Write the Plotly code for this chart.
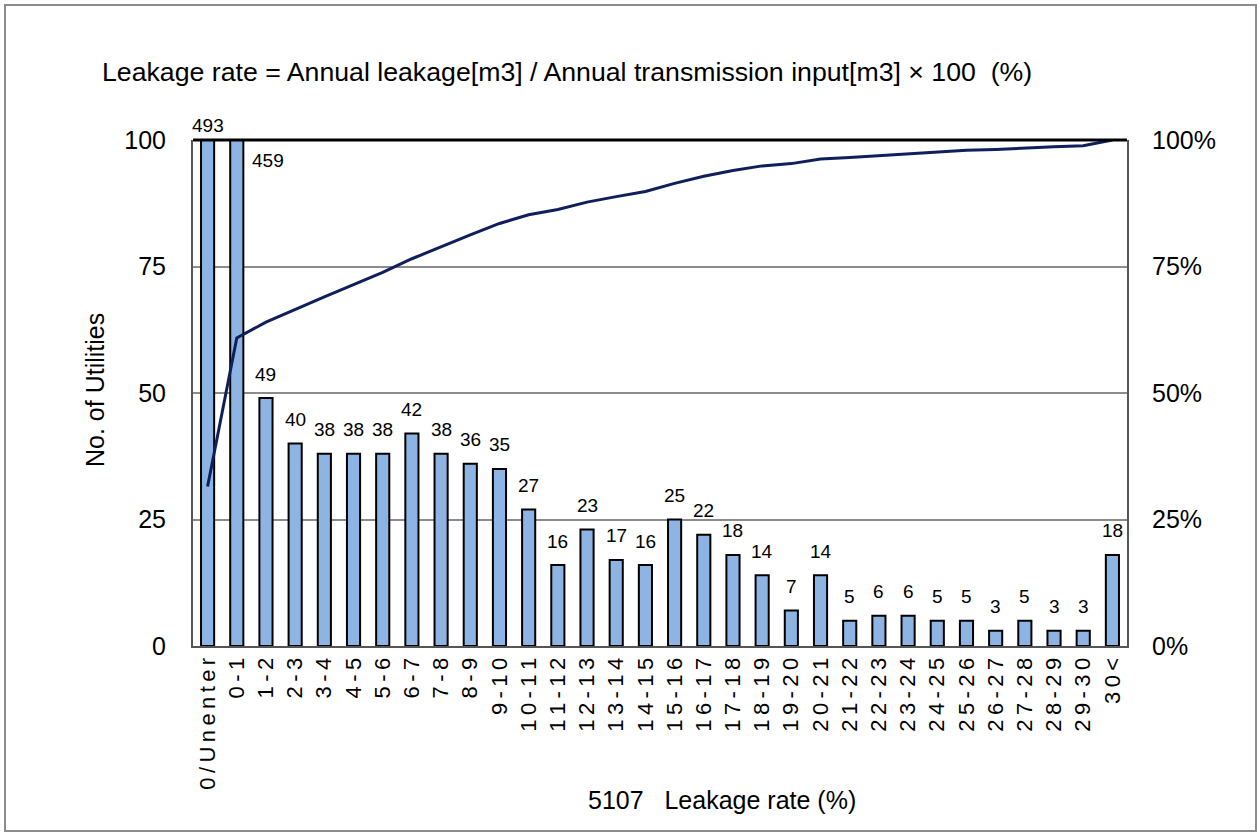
import plotly.graph_objects as go

categories = ["0/Unenter", "0-1", "1-2", "2-3", "3-4", "4-5", "5-6", "6-7", "7-8", "8-9",
              "9-10", "10-11", "11-12", "12-13", "13-14", "14-15", "15-16", "16-17", "17-18",
              "18-19", "19-20", "20-21", "21-22", "22-23", "23-24", "24-25", "25-26", "26-27",
              "27-28", "28-29", "29-30", "30<"]
counts = [493, 459, 49, 40, 38, 38, 38, 42, 38, 36, 35, 27, 16, 23, 17, 16, 25, 22, 18, 14,
          7, 14, 5, 6, 6, 5, 5, 3, 5, 3, 3, 18]
y_ticks = [0, 25, 50, 75, 100]
y2_ticktext = ["0%", "25%", "50%", "75%", "100%"]

total = sum(counts)
cum = []
s = 0
for c in counts:
    s += c
    cum.append(s / total * 100)

# spaced-out tick text (letter spacing as in the original)
ticktext = ["\u2009".join(list(c)) for c in categories]

FONT = "Liberation Sans, Arial"
L, R, T, B = 193, 130, 140, 186
W, H = 1257, 832
PW = W - L - R
PH = H - T - B


def px(x):
    return (x - L) / PW


def py(y):
    return (H - B - y) / PH


fig = go.Figure()
fig.add_trace(go.Bar(
    x=categories, y=counts, width=0.45,
    marker=dict(color="#8DB4E2", line=dict(color="black", width=2)),
    yaxis="y", showlegend=False, hoverinfo="x+y",
))
fig.add_trace(go.Scatter(
    x=categories, y=cum, mode="lines", yaxis="y2",
    line=dict(color="#0F1F5C", width=3), showlegend=False,
))

# data labels
for i, (c, v) in enumerate(zip(categories, counts)):
    if v <= 100:
        fig.add_annotation(x=c, y=v, xref="x", yref="y", text=str(v), showarrow=False,
                           yanchor="middle", yshift=24,
                           font=dict(family=FONT, size=19, color="black"))
fig.add_annotation(x=categories[0], y=100, xref="x", yref="y", text=str(counts[0]), showarrow=False,
                   yshift=15, font=dict(family=FONT, size=19, color="black"))
fig.add_annotation(x=categories[1], y=100, xref="x", yref="y", text=str(counts[1]), showarrow=False,
                   xshift=31, yshift=-20, font=dict(family=FONT, size=19, color="black"))

fig.update_layout(
    width=W, height=H,
    margin=dict(l=L, r=R, t=T, b=B),
    paper_bgcolor="white", plot_bgcolor="white",
    font=dict(family=FONT, size=25, color="black"),
    xaxis=dict(type="category", range=[-0.5, len(categories) - 0.5], tickmode="array",
               tickvals=categories, ticktext=ticktext,
               tickangle=-90, tickfont=dict(size=22), showline=True,
               linecolor="#555555", linewidth=2, ticks="outside", ticklen=1, tickcolor="white"),
    yaxis=dict(range=[0, 100], tickvals=y_ticks, showgrid=True, gridcolor="#8C8C8C",
               gridwidth=1.5, showline=True, linecolor="#555555", linewidth=2,
               ticks="outside", ticklen=20, tickcolor="white",
               tickfont=dict(size=25), zeroline=False),
    yaxis2=dict(range=[0, 100], overlaying="y", side="right", tickvals=y_ticks,
                ticktext=y2_ticktext, showgrid=False,
                showline=True, linecolor="#555555", linewidth=2, ticks="outside", ticklen=18,
                tickcolor="white", tickfont=dict(size=25), zeroline=False),
    shapes=[
        dict(type="line", xref="paper", yref="paper", x0=0, x1=1, y0=1, y1=1,
             line=dict(color="black", width=3)),
        dict(type="rect", xref="paper", yref="paper", x0=px(5), x1=px(1256),
             y0=py(831), y1=py(5), line=dict(color="#8C8C8C", width=2)),
    ],
)
fig.add_annotation(xref="paper", yref="paper", x=px(100), y=py(72), xanchor="left",
                   yanchor="middle",
                   text="Leakage rate = Annual leakage[m3] / Annual transmission input[m3] × 100  (%)",
                   showarrow=False, font=dict(size=26.7, color="black"))
fig.add_annotation(xref="paper", yref="paper", x=px(95), y=py(390), xanchor="center",
                   yanchor="middle", textangle=-90, text="No. of Utilities",
                   showarrow=False, font=dict(size=25, color="black"))
fig.add_annotation(xref="paper", yref="paper", x=px(722), y=py(800), xanchor="center",
                   yanchor="middle", text="5107   Leakage rate (%)",
                   showarrow=False, font=dict(size=25, color="black"))

fig.write_html("out.html", config={"displayModeBar": False},
               post_script="document.body.style.margin='0';")
